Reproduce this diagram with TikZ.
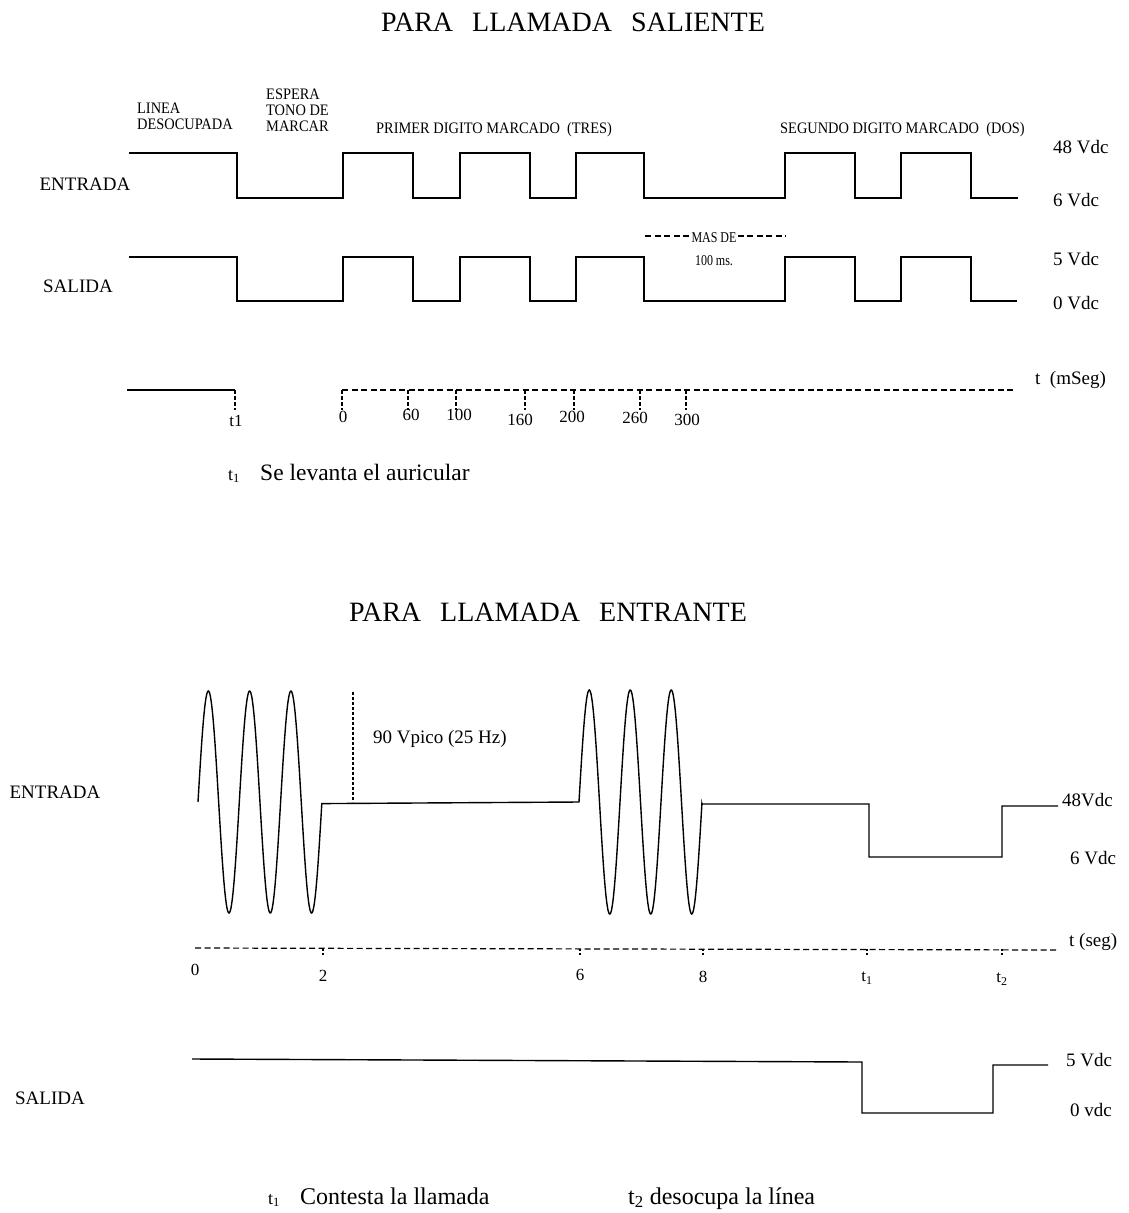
\documentclass[tikz,border=0pt]{standalone}
\usepackage{fontspec}
\setmainfont{Liberation Serif}
\newfontfamily\condfont[FakeStretch=0.9]{Liberation Serif}
\newfontfamily\condfontb[FakeStretch=0.8]{Liberation Serif}
\newcommand\myfs[1]{\fontsize{#1}{#1}\selectfont}
\begin{document}
\begin{tikzpicture}[x=1pt,y=-1pt,
  wave/.style={line width=1.5pt,line join=miter},
  axisdash/.style={line width=1.2pt,dash pattern=on 6pt off 3.5pt},
  tickdash/.style={line width=1.2pt,dash pattern=on 4pt off 2pt},
  lbl/.style={inner sep=0pt,font=\myfs{19}},
  small/.style={inner sep=0pt,font=\condfont\myfs{16},align=left},
  tiny/.style={inner sep=0pt,font=\condfontb\myfs{15}},
  num/.style={inner sep=0pt,font=\myfs{17}},
  title/.style={inner sep=0pt,font=\myfs{28}}]
\useasboundingbox (0,0) rectangle (1128,1213);
\fill[white] (0,0) rectangle (1128,1213);
% ---------------- SALIENTE ----------------
\node[title] (t1title) at (573,22) {PARA\hspace{19pt}LLAMADA\hspace{19pt}SALIENTE};
\node[small,anchor=west] (linea) at (137,116) {\baselineskip=18pt LINEA\\DESOCUPADA};
\node[small,anchor=west] (espera) at (266,110) {\baselineskip=18.5pt ESPERA\\TONO DE\\MARCAR};
\node[small,anchor=west] (primer) at (376,130) {PRIMER DIGITO MARCADO\ \ (TRES)};
\node[small,anchor=west] (segundo) at (780,130) {SEGUNDO DIGITO MARCADO\ \ (DOS)};
\node[lbl] (entA) at (85,184) {ENTRADA};
\node[lbl] (salA) at (78,286) {SALIDA};
\node[lbl,anchor=west] (v48a) at (1053,147) {48 Vdc};
\node[lbl,anchor=west] (v6a) at (1053,200) {6 Vdc};
\node[lbl,anchor=west] (v5a) at (1053,259) {5 Vdc};
\node[lbl,anchor=west] (v0a) at (1053,303) {0 Vdc};
% entrada waveform
\draw[wave] (129,153) -- (237,153) -- (237,198) -- (343,198) -- (343,153) -- (413,153) -- (413,198)
  -- (460,198) -- (460,153) -- (530,153) -- (530,198) -- (576,198) -- (576,153) -- (644,153)
  -- (644,198) -- (785,198) -- (785,153) -- (855,153) -- (855,198) -- (901,198) -- (901,153)
  -- (971,153) -- (971,198) -- (1018,198);
% salida waveform
\draw[wave] (129,257) -- (237,257) -- (237,301) -- (343,301) -- (343,257) -- (413,257) -- (413,301)
  -- (460,301) -- (460,257) -- (530,257) -- (530,301) -- (576,301) -- (576,257) -- (644,257)
  -- (644,301) -- (785,301) -- (785,257) -- (855,257) -- (855,301) -- (901,301) -- (901,257)
  -- (971,257) -- (971,301) -- (1017,301);
% mas de
\node[tiny] (masde) at (714,238) {MAS DE};
\node[tiny] (cien) at (714,261) {100 ms.};
\coordinate (mdl) at (645,236);
\coordinate (mdr) at (786,236);
\draw[axisdash,line width=1.2pt] (mdl) -- ([xshift=-2pt]masde.west |- mdl);
\draw[axisdash,line width=1.2pt] ([xshift=1pt]masde.east |- mdr) -- (mdr);
% time axis
\coordinate (ax0) at (127,390);
\coordinate (axt1) at (235,390);
\coordinate (axs) at (342,390);
\coordinate (axe) at (1013,390);
\draw[line width=1.3pt] (ax0) -- (axt1);
\draw[tickdash] (axt1) -- ++(0,20);
\draw[axisdash] (axs) -- (axe);
\foreach \xx in {342,408,456,525,574,640,686} \draw[tickdash] (\xx,390) -- (\xx,410);
\node[num] (lt1) at (236,421) {t1};
\node[num] (l0) at (343,417) {0};
\node[num] (l60) at (411,415) {60};
\node[num] (l100) at (459,415) {100};
\node[num] (l160) at (520,420) {160};
\node[num] (l200) at (572,417) {200};
\node[num] (l260) at (635,418) {260};
\node[num] (l300) at (687,420) {300};
\node[lbl,anchor=west] (tms) at (1035,380) {t\ \ (mSeg)};
\node[inner sep=0pt,font=\myfs{18},anchor=base west] (ft1) at (228,480) {t\textsubscript{1}};
\node[inner sep=0pt,font=\myfs{23.5},anchor=base west] (ftext1) at (260,480) {Se levanta el auricular};
% ---------------- ENTRANTE ----------------
\node[title] (t2title) at (548,612) {PARA\hspace{19pt}LLAMADA\hspace{19pt}ENTRANTE};
\node[lbl] (entB) at (55,792) {ENTRADA};
\node[lbl] (salB) at (50,1098) {SALIDA};
\node[lbl,anchor=west] (v48b) at (1062,800) {48Vdc};
\node[lbl,anchor=west] (v6b) at (1070,858) {6 Vdc};
\node[lbl,anchor=west] (v5b) at (1066,1060) {5 Vdc};
\node[lbl,anchor=west] (v0b) at (1070,1110) {0 vdc};
\draw[wave,line width=1.4pt] plot[domain=0:3,samples=240,smooth] ({198+41.3*\x},{802-111*sin(360*\x)})
  -- (579,802) -- plot[domain=0:3,samples=240,smooth] ({579+41*\x},{802-112*sin(360*\x)})
  -- (702,804) -- (869,804) -- (869,857) -- (1002,857) -- (1002,806) -- (1058,806);
\coordinate (vtop) at (353,692);
\coordinate (vbot) at (353,802);
\draw[tickdash,line width=1.2pt,dash pattern=on 3pt off 2pt] (vtop) -- (vbot);
\node[lbl,anchor=west] (vpico) at (373,739) {90 Vpico (25 Hz)};
% axis
\coordinate (bx0) at (195,948);
\coordinate (bxe) at (1058,950);
\draw[axisdash] (bx0) -- (bxe);
\foreach \xx in {323,580,703,867,1002} \draw[tickdash,dash pattern=on 2pt off 2pt] (\xx,949) -- (\xx,956);
\node[num] (b0) at (195,970) {0};
\node[num] (b2) at (323,976) {2};
\node[num] (b6) at (580,975) {6};
\node[num] (b8) at (703,977) {8};
\node[num] (bt1) at (867,978) {t\textsubscript{1}};
\node[num] (bt2) at (1002,979) {t\textsubscript{2}};
\node[lbl,anchor=west] (tseg) at (1069,942) {t (seg)};
% salida
\draw[wave,line width=1.4pt] (192,1059) -- (862,1062) -- (862,1113) -- (993,1113) -- (993,1065) -- (1048,1065);
% footnotes
\node[inner sep=0pt,font=\myfs{18},anchor=base west] (fb1) at (268,1204) {t\textsubscript{1}};
\node[inner sep=0pt,font=\myfs{24},anchor=base west] (fbt1) at (300,1204) {Contesta la llamada};
\node[inner sep=0pt,font=\myfs{24},anchor=base west] (fbt2) at (628,1204) {t\textsubscript{2} desocupa la línea};
\end{tikzpicture}
\end{document}
